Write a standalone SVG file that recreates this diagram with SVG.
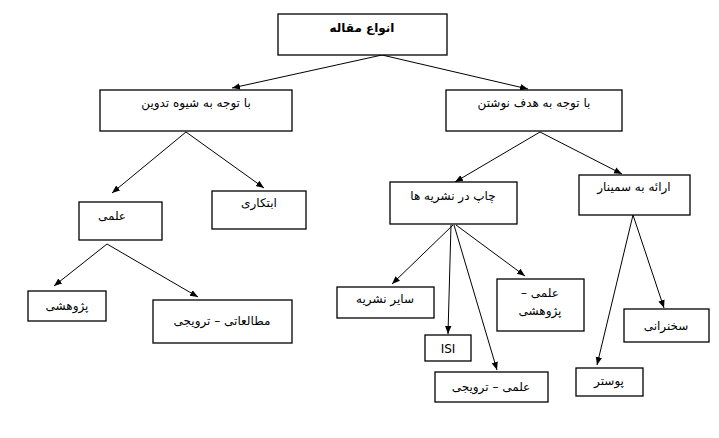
<svg xmlns="http://www.w3.org/2000/svg" width="719" height="438" viewBox="0 0 719 438">
<defs>
<marker id="a" viewBox="0 0 10 10" refX="10" refY="5" markerWidth="8" markerHeight="8" orient="auto-start-reverse" markerUnits="userSpaceOnUse"><path d="M0,1 L10,5 L0,9 z" fill="#000"/></marker>
<style>
rect{fill:#fff;stroke:#000;stroke-width:1.3}
text{font-family:"DejaVu Sans","Noto Sans",sans-serif;font-size:12px;text-anchor:middle;direction:rtl;fill:#000}
.c line{stroke:#000;stroke-width:1;marker-end:url(#a)}
</style>
</defs>
<rect width="719" height="438" style="stroke:none"/>
<g class="c">
<line x1="382" y1="55" x2="232" y2="88"/>
<line x1="382" y1="55" x2="528" y2="89"/>
<line x1="186" y1="132" x2="112" y2="193"/>
<line x1="186" y1="132" x2="264" y2="188"/>
<line x1="540" y1="132" x2="455" y2="182"/>
<line x1="540" y1="132" x2="622" y2="174"/>
<line x1="107" y1="244" x2="54" y2="286"/>
<line x1="107" y1="244" x2="198" y2="297"/>
<line x1="453" y1="225" x2="392" y2="284"/>
<line x1="451" y1="225" x2="448" y2="334"/>
<line x1="454" y1="225" x2="497" y2="370"/>
<line x1="456" y1="225" x2="525" y2="276"/>
<line x1="633" y1="215" x2="597" y2="365"/>
<line x1="633" y1="215" x2="664" y2="308"/>
</g>
<g id="n0"><rect x="278" y="14" width="169" height="41"/><text x="362" y="32" font-weight="bold">انواع مقاله</text></g>
<g id="n1"><rect x="100" y="90" width="192" height="41"/><text x="196" y="107">با توجه به شیوه تدوین</text></g>
<g id="n2"><rect x="446" y="90" width="176" height="41"/><text x="534" y="107">با توجه به هدف نوشتن</text></g>
<g id="n3"><rect x="79" y="202" width="83" height="38"/><text x="112" y="220">علمی</text></g>
<g id="n4"><rect x="212" y="191" width="94" height="38"/><text x="259" y="207">ابتکاری</text></g>
<g id="n5"><rect x="390" y="182" width="127" height="42"/><text x="453" y="200">چاپ در نشریه ها</text></g>
<g id="n6"><rect x="579" y="175" width="111" height="40"/><text x="634" y="191">ارائه به سمینار</text></g>
<g id="n7"><rect x="28" y="291" width="78" height="30"/><text x="67" y="310">پژوهشی</text></g>
<g id="n8"><rect x="153" y="300" width="139" height="43"/><text x="222" y="325">مطالعاتی – ترویجی</text></g>
<g id="n9"><rect x="337" y="287" width="97" height="31"/><text x="385" y="303">سایر نشریه</text></g>
<g id="n10"><rect x="497" y="279" width="87" height="52"/><text x="540" y="297">علمی –</text><text x="540" y="315">پژوهشی</text></g>
<g id="n11"><rect x="425" y="335" width="46" height="26"/><text x="448" y="353" style="direction:ltr">ISI</text></g>
<g id="n12"><rect x="435" y="372" width="113" height="30"/><text x="491" y="391">علمی – ترویجی</text></g>
<g id="n13"><rect x="624" y="309" width="85" height="33"/><text x="666" y="330">سخنرانی</text></g>
<g id="n14"><rect x="576" y="368" width="67" height="28"/><text x="609" y="385">پوستر</text></g>
</svg>
